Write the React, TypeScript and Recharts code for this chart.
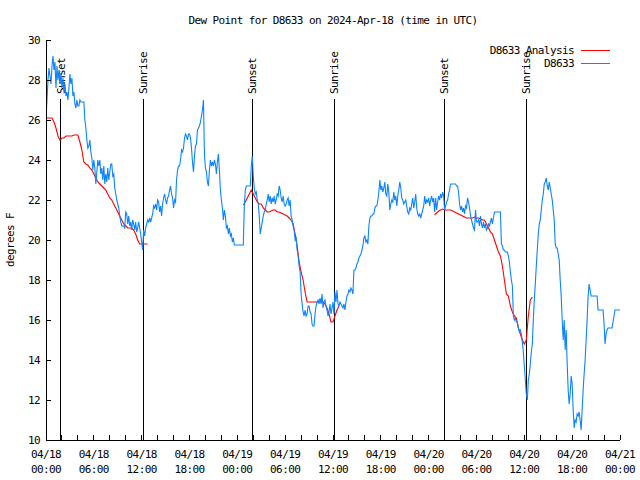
import { LineChart, Line, XAxis, YAxis, ReferenceLine } from "recharts"

const TITLE = "Dew Point for D8633 on 2024-Apr-18 (time in UTC)"
const Y_LABEL = "degrees F"
const STATION_NAME = "D8633"
const ANALYSIS_NAME = "D8633 Analysis"
const STATION_COLOR = "#0b84ff"
const ANALYSIS_COLOR = "#ff0000"

const MONO = "'DejaVu Sans Mono', monospace"
const textStyle = { fontFamily: MONO, fontSize: 11, letterSpacing: -0.6 }

// hours since 04/18 00:00 UTC
const yTicks = [10, 12, 14, 16, 18, 20, 22, 24, 26, 28, 30]
const hourTicks = [0, 2, 4, 6, 8, 10, 12, 14, 16, 18, 20, 22, 24, 26, 28, 30, 32, 34, 36, 38, 40, 42, 44, 46, 48, 50, 52, 54, 56, 58, 60, 62, 64, 66, 68, 70, 72]
const dayLabels = ["04/18", "04/19", "04/20", "04/21"]

const sunEvents = [
  { label: "Sunset", hour: 1.88 },
  { label: "Sunrise", hour: 12.2 },
  { label: "Sunset", hour: 25.88 },
  { label: "Sunrise", hour: 36.16 },
  { label: "Sunset", hour: 49.96 },
  { label: "Sunrise", hour: 60.25 },
]
const MARKER_TOP = 27.05

// station obs, one value every 7.5 minutes
const STATION_STEP_H = 0.125
const station18 = [
  26.1, 27.0, 28.0, 28.6, 28.2, 27.8, 28.7, 29.2,
  28.5, 28.9, 27.6, 28.7, 28.0, 28.5, 27.8, 28.3,
  27.6, 28.1, 27.4, 27.8, 27.2, 27.4, 27.0, 27.6,
  28.3, 27.8, 28.1, 27.2, 27.4, 26.8, 26.6, 27.0,
  26.7, 26.7, 27.0, 26.9, 26.9, 26.9, 26.9, 26.0,
  25.6, 25.0, 24.6, 24.7, 25.0, 24.4, 24.1, 23.5,
  24.0, 23.6, 22.8, 23.4, 24.0, 23.7, 24.0, 23.3,
  23.6, 23.0, 23.7, 22.8, 23.3, 22.9, 23.6, 23.0,
  23.4, 23.8, 23.8, 23.2, 23.3, 22.6, 22.3, 22.0,
  21.8, 21.6, 21.2, 20.9, 20.7, 20.7, 20.7, 20.6,
  21.4, 21.3, 20.8, 21.2, 20.7, 20.9, 20.5, 21.0,
  20.8, 20.5, 20.9, 20.4, 20.6, 20.9, 20.6, 20.3,
  19.9, 19.5, 20.5, 20.2, 20.6, 20.8, 21.0, 20.9,
  21.1, 20.9, 21.1, 21.3, 21.7, 21.6, 21.8, 21.5,
  22.0, 21.9, 21.4, 21.7, 21.2, 21.8, 22.1, 22.3,
  22.0, 21.8, 22.1, 22.2, 22.5, 22.7, 22.3, 22.1,
  21.6, 22.0, 21.9, 23.0, 23.5, 23.7, 23.7, 24.0,
  24.5, 24.4, 24.6, 25.1, 25.3, 25.2, 25.0, 25.3,
  25.3, 25.1, 24.6, 23.9, 23.4, 24.2, 24.7, 24.8,
  25.5, 25.6, 25.7, 25.9, 26.2, 26.5, 27.0, 24.3,
  23.6, 23.4, 22.9, 22.7, 23.5, 24.0, 23.7, 23.9,
  23.7, 24.0, 23.8, 23.3, 23.9, 24.3, 23.5, 22.5,
  22.0, 21.6, 21.0, 21.5, 21.2, 20.6, 20.7, 20.3,
  20.6, 20.2, 20.3, 19.9, 20.1, 19.75, 19.75, 19.75,
]
const station19 = [
  19.75, 19.75, 19.75, 19.75, 19.75, 19.75, 19.75, 21.7,
  22.5, 22.7, 22.7, 22.7, 22.7, 22.7, 23.7, 24.2,
  23.2, 22.6, 22.3, 22.4, 22.0, 21.8, 21.2, 20.3,
  20.6, 20.9, 21.2, 21.4, 21.5, 21.8, 22.0, 22.3,
  21.9, 22.2, 21.8, 22.1, 21.9, 22.2, 21.8, 22.0,
  22.3, 22.2, 22.7, 22.5, 22.1, 21.9, 22.2, 21.8,
  21.7, 21.8, 22.0, 22.1, 21.7, 22.0, 21.2, 21.0,
  20.7, 20.5, 20.0, 20.1, 19.5, 19.2, 18.7, 18.4,
  17.3, 16.8, 16.4, 16.2, 16.5, 16.2, 16.3, 16.7,
  16.7, 16.4, 16.3, 15.8, 15.7, 15.7, 16.3, 16.7,
  16.9, 17.0, 16.8, 17.1, 16.8, 17.3, 16.6, 16.9,
  17.0, 16.7, 16.5, 16.2, 16.4, 16.8, 16.3, 16.6,
  16.9, 16.3, 17.4, 16.9, 17.5, 16.8, 16.7, 16.9,
  16.8, 16.7, 16.6, 16.8, 16.5, 16.9, 17.2, 17.3,
  17.5, 17.4, 17.6, 17.5, 17.3, 18.5, 18.5, 18.6,
  18.8, 18.9, 19.1, 19.2, 19.3, 19.5, 19.7, 20.1,
  20.2, 19.9, 20.0, 19.8, 20.7, 21.1, 21.2, 21.2,
  21.3, 21.3, 21.6, 21.7, 21.7, 22.0, 22.4, 23.0,
  22.5, 22.7, 22.4, 22.6, 22.9, 22.3, 22.2, 22.8,
  22.4, 21.5, 21.8, 22.0, 21.9, 22.4, 22.0, 22.2,
  21.7, 22.2, 22.5, 22.9, 22.6, 22.1, 22.0, 21.8,
  21.9, 22.0, 21.7, 21.4, 21.3, 21.6, 21.5, 21.8,
  22.1, 21.6, 21.9, 22.3, 21.6, 21.3, 21.2, 21.3,
  21.1, 21.3, 21.5, 21.7, 22.2, 21.8, 22.0, 21.9,
]
const station20 = [
  22.1, 21.7, 22.0, 22.2, 21.9, 22.1, 21.4, 22.1,
  21.5, 21.9, 22.2, 22.0, 22.3, 22.1, 22.4, 22.2,
  21.5, 21.7, 21.9, 22.0, 22.3, 22.5, 22.8, 22.8,
  22.8, 22.8, 22.8, 22.8, 22.7, 22.7, 22.4, 21.8,
  21.5, 21.7, 21.4, 21.6, 21.3, 21.7, 21.6, 22.1,
  21.9, 21.6, 21.2, 21.0, 20.8, 20.6, 20.5, 21.5,
  20.9, 20.9, 21.0, 20.7, 21.2, 20.8, 20.6, 20.9,
  20.6, 20.8, 20.5, 20.6, 20.8, 20.7, 20.9, 21.1,
  20.8, 21.1, 21.4, 21.4, 21.4, 21.4, 21.4, 21.4,
  21.4, 19.8, 19.7, 19.5, 19.5, 19.4, 19.4, 19.4,
  19.2, 18.9, 18.4, 18.0, 17.7, 16.2, 16.0, 16.1,
  15.9, 15.9, 15.6, 15.4, 15.5, 15.3, 14.9, 14.4,
  13.7, 13.0, 12.3, 12.0, 13.0, 13.3, 13.8, 14.4,
  14.8, 16.0, 17.0, 17.8, 18.7, 19.5, 20.3, 20.8,
  21.0, 21.5, 22.0, 22.3, 22.8, 22.9, 23.1, 22.7,
  22.5, 22.9, 22.6, 22.3, 22.0, 21.5, 21.0, 19.8,
  19.6, 19.6, 19.3, 19.0, 18.0, 17.2, 16.0, 15.0,
  16.0, 14.5, 15.5, 13.8, 12.5, 11.8, 12.3, 13.2,
  12.8, 11.5, 10.6, 11.0, 10.9, 11.3, 11.2, 11.4,
  11.0, 10.5, 11.5, 12.5, 13.3, 14.0, 15.0, 16.0,
  17.2, 17.8, 17.5, 17.2, 17.2, 17.2, 17.2, 17.2,
  17.2, 17.2, 16.5, 16.5, 16.5, 16.5, 16.5, 16.5,
  15.8, 14.8, 15.3, 15.5, 15.6, 15.6, 15.6, 15.6,
  15.6, 15.9, 16.2, 16.5, 16.5, 16.5, 16.5, 16.5,
  16.5,
]

// analysis, one value every 15 minutes, three separate runs
const ANALYSIS_STEP_H = 0.25
const analysis18Start = 0
const analysis18 = [
  26.1, 26.1, 26.1, 26.1, 25.9, 25.6, 25.2, 25.0, 25.1, 25.1, 25.2, 25.2, 25.2,
  25.2, 25.25, 25.25, 25.25, 24.9, 24.5, 23.9, 23.8, 23.75, 23.6, 23.5, 23.3, 23.1,
  22.9, 22.8, 22.7, 22.6, 22.5, 22.3, 22.1, 22.0, 21.8, 21.6, 21.4, 21.2, 21.0,
  20.8, 20.7, 20.6, 20.6, 20.6, 20.5, 20.3, 20.0, 19.8, 19.8, 19.8, 19.8, 19.8,
]
const analysis19Start = 24.75
const analysis19 = [
  21.75, 21.9, 22.1, 22.3, 22.5, 22.3, 22.1, 21.9, 21.8, 21.8, 21.6, 21.5, 21.4,
  21.4, 21.45, 21.5, 21.5, 21.4, 21.4, 21.35, 21.3, 21.25, 21.2, 21.1, 21.0, 20.8,
  20.3, 19.7, 18.9, 18.4, 18.0, 17.4, 16.9, 16.9, 16.9, 16.9, 16.9, 16.9, 16.9,
  16.9, 16.9, 16.8, 16.6, 16.3, 15.9, 15.9, 16.2, 16.5, 16.7,
]
const analysis20Start = 48.75
const analysis20 = [
  21.25, 21.35, 21.45, 21.5, 21.55, 21.5, 21.5, 21.5, 21.5, 21.45, 21.4, 21.35, 21.3,
  21.25, 21.2, 21.15, 21.1, 21.1, 21.1, 21.1, 21.15, 21.1, 21.1, 21.05, 21.0, 21.0,
  20.8, 20.6, 20.4, 20.3, 20.0, 19.7, 19.4, 19.2, 18.7, 18.0, 17.3, 17.2, 16.7,
  16.4, 16.2, 16.1, 15.6, 15.3, 15.0, 14.8, 15.0, 16.2, 17.0, 17.15,
]

const stationData = [...station18, ...station19, ...station20].map((v, i) => ({ t: i * STATION_STEP_H, v }))

const run = (start: number, values: number[]) => values.map((v, i) => ({ t: start + i * ANALYSIS_STEP_H, v }))
const gapAfter = (start: number, values: number[]) => ({ t: start + values.length * ANALYSIS_STEP_H, v: null })

const analysisData = [
  ...run(analysis18Start, analysis18),
  gapAfter(analysis18Start, analysis18),
  ...run(analysis19Start, analysis19),
  gapAfter(analysis19Start, analysis19),
  ...run(analysis20Start, analysis20),
]

function HourTick(props: any) {
  const { x, y, payload } = props
  const h = payload.value
  if (h % 6 !== 0) return <g />
  const day = dayLabels[Math.floor(h / 24)]
  const hh = String(h % 24).padStart(2, "0") + ":00"
  return (
    <text x={x} y={y} textAnchor="middle" fill="#000" style={textStyle}>
      <tspan x={x} dy={9}>{day}</tspan>
      <tspan x={x} dy={15}>{hh}</tspan>
    </text>
  )
}

const sunLabel = (text: string) => (props: any) => {
  const vb = props.viewBox || { x: 0, y: 0 }
  const x = vb.x + 4
  const y = vb.y - 5
  return (
    <text x={x} y={y} transform={`rotate(-90 ${x} ${y})`} fill="#000" style={textStyle}>
      {text}
    </text>
  )
}

export default function App() {
  return (
    <div style={{ position: "absolute", left: 0, top: 0, width: 640, height: 480, background: "#fff" }}>
      <style>{`.recharts-surface line { shape-rendering: crispEdges; }`}</style>
      <LineChart width={640} height={480} margin={{ top: 40, right: 20, bottom: 0, left: 0 }}>
        <XAxis
          xAxisId={0}
          type="number"
          dataKey="t"
          domain={[0, 72]}
          allowDataOverflow
          ticks={hourTicks}
          interval={0}
          height={40}
          tickSize={-5}
          tickMargin={14}
          axisLine={{ stroke: "#000" }}
          tickLine={{ stroke: "#000" }}
          tick={<HourTick />}
        />
        <XAxis
          xAxisId="top"
          orientation="top"
          type="number"
          dataKey="t"
          domain={[0, 72]}
          allowDataOverflow
          ticks={hourTicks}
          interval={0}
          height={0}
          tickSize={-5}
          axisLine={{ stroke: "#000" }}
          tickLine={{ stroke: "#000" }}
          tick={false}
        />
        <YAxis
          yAxisId={0}
          type="number"
          domain={[10, 30]}
          allowDataOverflow
          ticks={yTicks}
          interval={0}
          width={46}
          tickSize={-5}
          tickMargin={11}
          axisLine={{ stroke: "#000" }}
          tickLine={{ stroke: "#000" }}
          tick={{ fill: "#000", fontFamily: MONO, fontSize: 11, letterSpacing: -0.6 }}
        />
        <YAxis
          yAxisId="right"
          orientation="right"
          type="number"
          domain={[10, 30]}
          allowDataOverflow
          ticks={yTicks}
          interval={0}
          width={0}
          tickSize={-5}
          axisLine={{ stroke: "#000" }}
          tickLine={{ stroke: "#000" }}
          tick={false}
        />
        {sunEvents.map((ev, i) => (
          <ReferenceLine
            key={i}
            segment={[{ x: ev.hour, y: 10 }, { x: ev.hour, y: MARKER_TOP }]}
            stroke="#000"
            strokeWidth={1}
            label={sunLabel(ev.label)}
          />
        ))}
        <Line
          data={analysisData}
          dataKey="v"
          name={ANALYSIS_NAME}
          type="linear"
          stroke={ANALYSIS_COLOR}
          strokeWidth={1.1}
          dot={false}
          activeDot={false}
          connectNulls={false}
          isAnimationActive={false}
        />
        <Line
          data={stationData}
          dataKey="v"
          name={STATION_NAME}
          type="linear"
          stroke={STATION_COLOR}
          strokeWidth={1.1}
          dot={false}
          activeDot={false}
          isAnimationActive={false}
        />
      </LineChart>
      <svg width={640} height={480} style={{ position: "absolute", left: 0, top: 0, pointerEvents: "none" }}>
        <text x={333} y={24} textAnchor="middle" fill="#000" style={textStyle}>{TITLE}</text>
        <text x={14} y={240} textAnchor="middle" transform="rotate(-90 14 240)" fill="#000" style={textStyle}>{Y_LABEL}</text>
        <text x={574} y={54} textAnchor="end" fill="#000" style={textStyle}>{ANALYSIS_NAME}</text>
        <line x1={581} x2={610} y1={50} y2={50} stroke={ANALYSIS_COLOR} strokeWidth={1} shapeRendering="crispEdges" />
        <text x={574} y={67} textAnchor="end" fill="#000" style={textStyle}>{STATION_NAME}</text>
        <line x1={581} x2={610} y1={63} y2={63} stroke={STATION_COLOR} strokeWidth={1} shapeRendering="crispEdges" />
      </svg>
    </div>
  )
}
